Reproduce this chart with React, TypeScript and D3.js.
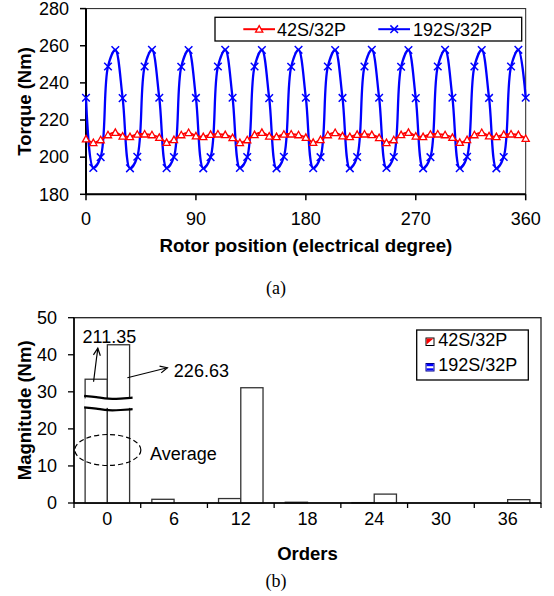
import React from 'react';
import * as d3 from 'd3';

// ---------- Chart (a) data ----------
const angleStep = 6;
const torque42 = [
  209.8, 207.8, 209.3, 212.0, 213.3, 211.3, 211.0, 212.3, 212.4, 212.0,
  210.6, 207.9, 209.4, 212.0, 213.2, 211.4, 211.0, 212.2, 212.4, 212.1,
  210.5, 207.8, 209.3, 212.1, 213.3, 211.3, 211.0, 212.3, 212.4, 212.0,
  210.6, 207.9, 209.4, 212.0, 213.2, 211.4, 211.0, 212.2, 212.4, 212.1,
  210.5, 207.8, 209.3, 212.1, 213.3, 211.3, 211.0, 212.3, 212.4, 212.0,
  210.6, 207.9, 209.4, 212.0, 213.2, 211.4, 211.0, 212.2, 212.4, 212.1,
  210.0,
];
const torque192 = [
  232.0, 194.2, 200.0, 248.8, 257.7, 231.8, 194.0, 200.2, 248.8, 257.8,
  232.0, 194.1, 200.1, 248.7, 257.7, 231.9, 194.0, 200.0, 248.8, 257.8,
  232.0, 194.2, 200.1, 248.8, 257.7, 231.8, 194.0, 200.2, 248.7, 257.8,
  232.0, 194.1, 200.0, 248.8, 257.7, 231.9, 194.0, 200.1, 248.8, 257.8,
  232.0, 194.2, 200.1, 248.7, 257.7, 231.8, 194.0, 200.0, 248.8, 257.8,
  232.0, 194.1, 200.2, 248.8, 257.7, 231.9, 194.0, 200.1, 248.8, 257.8,
  232.0,
];
const xTicksA = [0, 90, 180, 270, 360];
const yTicksA = [180, 200, 220, 240, 260, 280];
const seriesA = ['42S/32P', '192S/32P'];

// ---------- Chart (b) data ----------
const orders = ['0', '6', '12', '18', '24', '30', '36'];
const seriesB = ['42S/32P', '192S/32P'];
const mag42 = [33.4, 1.0, 1.2, 0.2, 0.1, 0, 0];
const mag192 = [42.7, 0, 31.1, 0, 2.4, 0, 0.9];
const avgLabels = ['211.35', '226.63'];
const yTicksB = [0, 10, 20, 30, 40, 50];
const breakRange = [25.4, 28.5];

const SANS = 'Arial, "Liberation Sans", sans-serif';
const SERIF = '"Times New Roman", "Liberation Serif", serif';

export default function App() {
  // ---- chart (a) scales ----
  const ax0 = 86, ax1 = 525.7, ay0 = 194.3, ay1 = 8.6;
  const xA = d3.scaleLinear().domain([0, 360]).range([ax0, ax1]);
  const yA = d3.scaleLinear().domain([180, 280]).range([ay0, ay1]);
  const ptsA42 = torque42.map((v, i) => [i * angleStep, v] as [number, number]);
  const ptsA192 = torque192.map((v, i) => [i * angleStep, v] as [number, number]);
  const lineA = d3
    .line<[number, number]>()
    .x((d) => xA(d[0]))
    .y((d) => yA(d[1]))
    .curve(d3.curveCatmullRom.alpha(0.5));

  const tri = (cx: number, cy: number, s = 3.6) =>
    `M${cx},${cy - s}L${cx + s},${cy + s * 0.8}L${cx - s},${cy + s * 0.8}Z`;
  const cross = (cx: number, cy: number, s = 3.8) =>
    `M${cx - s},${cy - s}L${cx + s},${cy + s}M${cx - s},${cy + s}L${cx + s},${cy - s}`;

  // ---- chart (b) scales ----
  const bx0 = 74, bx1 = 541, by0 = 503, by1 = 317.7;
  const xB = d3.scaleBand<string>().domain(orders).range([bx0, bx1]).padding(0);
  const xSub = d3
    .scaleBand<string>()
    .domain(seriesB)
    .range([0, xB.bandwidth()])
    .paddingInner(0)
    .paddingOuter(0.5);
  const yB = d3.scaleLinear().domain([0, 50]).range([by0, by1]);
  const bw = xSub.bandwidth();
  const bars: { x: number; v: number }[] = [];
  orders.forEach((o, i) => {
    bars.push({ x: xB(o)! + xSub(seriesB[0])!, v: mag42[i] });
    bars.push({ x: xB(o)! + xSub(seriesB[1])!, v: mag192[i] });
  });
  const boundaries = orders.map((o) => xB(o)!).concat([bx1]);

  // annotations relative to bars of order 0
  const r0x = xB(orders[0])! + xSub(seriesB[0])!;
  const b0x = xB(orders[0])! + xSub(seriesB[1])!;
  const r0top = yB(mag42[0]);
  const b0top = yB(mag192[0]);
  const a1s = [r0x + bw * 0.38, r0top + 2.5];
  const a1e = [r0x + bw * 0.57, r0top - 31];
  const a2s = [b0x + bw * 0.9, b0top + 33];
  const a2e = [b0x + bw * 0.9 + 40, b0top + 23];
  const arrowHead = (s: number[], e: number[], len = 8, ang = 0.45) => {
    const a = Math.atan2(e[1] - s[1], e[0] - s[0]);
    const p1 = [e[0] - len * Math.cos(a - ang), e[1] - len * Math.sin(a - ang)];
    const p2 = [e[0] - len * Math.cos(a + ang), e[1] - len * Math.sin(a + ang)];
    return `M${p1[0]},${p1[1]}L${e[0]},${e[1]}L${p2[0]},${p2[1]}`;
  };

  const brkTop = yB(breakRange[1]);
  const brkBot = yB(breakRange[0]);
  const bxs = r0x - 1;
  const bxe = b0x + bw + 3;
  const wave = (yc: number) => {
    const w = bxe - bxs;
    return d3.line().curve(d3.curveBasis)([
      [bxs, yc - 1.5],
      [bxs + w * 0.25, yc - 0.5],
      [bxs + w * 0.5, yc + 1.8],
      [bxs + w * 0.75, yc + 1.2],
      [bxe, yc + 0.3],
    ] as [number, number][]) as string;
  };

  const ellCx = xB(orders[0])! + xB.bandwidth() / 2 + 0.5;
  const ellCy = yB(14.3);

  return (
    <svg
      width={554}
      height={596}
      style={{ position: 'absolute', left: 0, top: 0, background: '#fff' }}
      fontFamily={SANS}
    >
      <rect width={554} height={596} fill="#fff" />
      {/* ================= Chart (a) ================= */}
      <g>
        <rect x={ax0} y={ay1} width={ax1 - ax0} height={ay0 - ay1} fill="none" stroke="#222" strokeWidth={1} />
        <line x1={ax0} y1={ay1} x2={ax0} y2={ay0} stroke="#000" strokeWidth={2} />
        <line x1={ax0} y1={ay0} x2={ax1} y2={ay0} stroke="#000" strokeWidth={2} />
        {yTicksA.map((t) => (
          <g key={'ya' + t}>
            <line x1={ax0 - 6} x2={ax0} y1={yA(t)} y2={yA(t)} stroke="#000" strokeWidth={1.5} />
            <text x={ax0 - 17} y={yA(t)} dy="0.35em" textAnchor="end" fontSize={18}>
              {t}
            </text>
          </g>
        ))}
        {xTicksA.map((t) => (
          <g key={'xa' + t}>
            <line x1={xA(t)} x2={xA(t)} y1={ay0} y2={ay0 + 6} stroke="#000" strokeWidth={1.5} />
            <text x={xA(t)} y={ay0 + 30.5} textAnchor="middle" fontSize={18}>
              {t}
            </text>
          </g>
        ))}
        <text x={(ax0 + ax1) / 2} y={251.5} textAnchor="middle" fontSize={18.7} fontWeight="bold">
          Rotor position (electrical degree)
        </text>
        <text
          transform={`translate(31,${(ay0 + ay1) / 2}) rotate(-90)`}
          textAnchor="middle"
          fontSize={18.5}
          fontWeight="bold"
        >
          Torque (Nm)
        </text>
        {/* series */}
        <path d={lineA(ptsA192) || ''} fill="none" stroke="#0000ff" strokeWidth={2.3} />
        {ptsA192.map((d, i) => (
          <path key={'bm' + i} d={cross(xA(d[0]), yA(d[1]))} stroke="#0000ff" strokeWidth={1.5} fill="none" />
        ))}
        <path d={lineA(ptsA42) || ''} fill="none" stroke="#ff0000" strokeWidth={2} />
        {ptsA42.map((d, i) => (
          <path key={'rm' + i} d={tri(xA(d[0]), yA(d[1]))} stroke="#ff0000" strokeWidth={1.3} fill="#fff" />
        ))}
        {/* legend */}
        <rect x={215} y={17.3} width={306.7} height={23.7} fill="#fff" stroke="#000" strokeWidth={1.3} />
        <line x1={243.3} x2={275} y1={29.2} y2={29.2} stroke="#ff0000" strokeWidth={2} />
        <path d={tri(259.2, 29.2)} stroke="#ff0000" strokeWidth={1.3} fill="#fff" />
        <text x={277} y={35.6} fontSize={18}>
          {seriesA[0]}
        </text>
        <line x1={378.3} x2={410} y1={29.2} y2={29.2} stroke="#0000ff" strokeWidth={2} />
        <path d={cross(394.2, 29.2)} stroke="#0000ff" strokeWidth={1.5} fill="none" />
        <text x={413} y={35.6} fontSize={18}>
          {seriesA[1]}
        </text>
        <text x={276} y={294} textAnchor="middle" fontSize={18} fontFamily={SERIF}>
          (a)
        </text>
      </g>

      {/* ================= Chart (b) ================= */}
      <g>
        <rect x={bx0} y={by1} width={bx1 - bx0} height={by0 - by1} fill="none" stroke="#222" strokeWidth={1.3} />
        {bars.map((b, i) =>
          b.v > 0 ? (
            <rect
              key={'bar' + i}
              x={b.x}
              y={yB(b.v)}
              width={bw}
              height={by0 - yB(b.v)}
              fill="#fff"
              stroke="#333"
              strokeWidth={1.3}
            />
          ) : null
        )}
        {/* axis break */}
        <rect x={bxs} y={brkTop + 1} width={bxe - bxs} height={brkBot - brkTop - 2} fill="#fff" />
        <path d={wave(brkTop)} fill="none" stroke="#000" strokeWidth={2.2} />
        <path d={wave(brkBot)} fill="none" stroke="#000" strokeWidth={2.2} />
        <line x1={bx0} y1={by1} x2={bx0} y2={by0} stroke="#000" strokeWidth={1.5} />
        <line x1={bx0} y1={by0} x2={bx1} y2={by0} stroke="#000" strokeWidth={1.5} />
        {yTicksB.map((t) => (
          <g key={'yb' + t}>
            <line x1={bx0 - 6} x2={bx0} y1={yB(t)} y2={yB(t)} stroke="#000" strokeWidth={1.3} />
            <text x={bx0 - 17} y={yB(t)} dy="0.35em" textAnchor="end" fontSize={18}>
              {t}
            </text>
          </g>
        ))}
        {boundaries.map((x, i) => (
          <line key={'xbt' + i} x1={x} x2={x} y1={by0} y2={by0 + 5} stroke="#000" strokeWidth={1.3} />
        ))}
        {orders.map((o) => (
          <text key={'xbl' + o} x={xB(o)! + xB.bandwidth() / 2} y={524.5} textAnchor="middle" fontSize={18}>
            {o}
          </text>
        ))}
        <text x={(bx0 + bx1) / 2} y={560} textAnchor="middle" fontSize={18.5} fontWeight="bold">
          Orders
        </text>
        <text
          transform={`translate(31,${(by0 + by1) / 2}) rotate(-90)`}
          textAnchor="middle"
          fontSize={18.5}
          fontWeight="bold"
        >
          Magnitude (Nm)
        </text>
        {/* annotations */}
        <line x1={a1s[0]} y1={a1s[1]} x2={a1e[0]} y2={a1e[1]} stroke="#000" strokeWidth={1.2} />
        <path d={arrowHead(a1s, a1e)} fill="none" stroke="#000" strokeWidth={1.2} />
        <text x={r0x - 2.5} y={342.7} fontSize={18}>
          {avgLabels[0]}
        </text>
        <line x1={a2s[0]} y1={a2s[1]} x2={a2e[0]} y2={a2e[1]} stroke="#000" strokeWidth={1.2} />
        <path d={arrowHead(a2s, a2e)} fill="none" stroke="#000" strokeWidth={1.2} />
        <text x={a2e[0] + 6.5} y={377.3} fontSize={18}>
          {avgLabels[1]}
        </text>
        <ellipse cx={ellCx} cy={ellCy} rx={33} ry={15.5} fill="none" stroke="#000" strokeWidth={1.2} strokeDasharray="5,3" />
        <text x={150} y={460} fontSize={18}>
          Average
        </text>
        {/* legend */}
        <rect x={416.7} y={330} width={111.6} height={50} fill="#fff" stroke="#000" strokeWidth={1.3} />
        <rect x={426} y={338} width={8} height={7.5} fill="#fff" stroke="#000" strokeWidth={1} />
        <path d="M426.5,338.5 L433.5,338.5 L426.5,344.5 Z" fill="#ff0000" />
        <text x={438.3} y={345.7} fontSize={18}>
          {seriesB[0]}
        </text>
        <rect x={426} y={363.5} width={8} height={7.5} fill="#fff" stroke="#00008b" strokeWidth={1} />
        <rect x={426.5} y={364} width={7} height={2.2} fill="#0000ff" />
        <rect x={426.5} y={368.3} width={7} height={2.2} fill="#0000ff" />
        <text x={438.3} y={371} fontSize={18}>
          {seriesB[1]}
        </text>
        <text x={276} y={587} textAnchor="middle" fontSize={18} fontFamily={SERIF}>
          (b)
        </text>
      </g>
    </svg>
  );
}
